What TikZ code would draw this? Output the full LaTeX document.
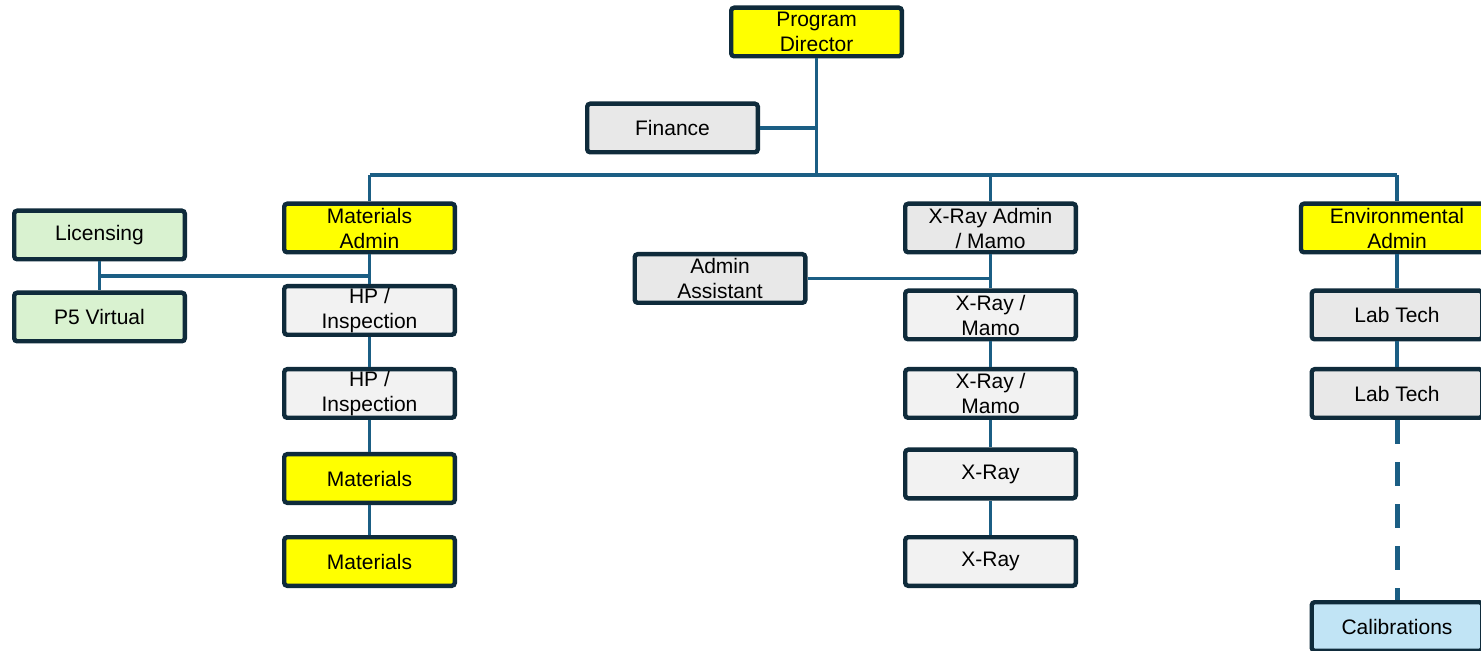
\documentclass[tikz,border=0pt]{standalone}
\usepackage{fontspec}
\setmainfont{Liberation Sans}
\usetikzlibrary{calc}

\definecolor{boxline}{HTML}{0F2B3B}
\definecolor{linkblue}{HTML}{1B5E84}
\definecolor{leadyellow}{HTML}{FFFF00}
\definecolor{staffgray}{HTML}{E8E8E8}
\definecolor{crewgray}{HTML}{F2F2F2}
\definecolor{fieldgreen}{HTML}{D9F2D0}
\definecolor{calblue}{HTML}{C1E4F5}

\tikzset{
  orgbox/.style={draw=boxline, line width=2.2pt, rounded corners=1.5pt,
    minimum width=85.3pt, minimum height=24.3pt, inner sep=0pt,
    align=center, font=\fontsize{10.5}{12.5}\selectfont},
  leadbox/.style={orgbox, fill=leadyellow},
  staffbox/.style={orgbox, fill=staffgray},
  crewbox/.style={orgbox, fill=crewgray},
  fieldbox/.style={orgbox, fill=fieldgreen},
  calbox/.style={orgbox, fill=calblue},
  link/.style={draw=linkblue, line width=1.6pt},
}

\begin{document}
\begin{tikzpicture}[x=0.5pt, y=-0.5pt]
  \useasboundingbox (0,0) rectangle (1481,651);

  % top
  \node[leadbox] (director) at (816.5,32) {Program\\Director};
  \node[staffbox] (finance) at (672.5,128) {Finance};

  % materials branch
  \node[leadbox] (matadmin) at (369.5,228) {Materials\\Admin};
  \node[fieldbox] (licensing) at (99.5,235) {Licensing};
  \node[fieldbox] (pfive) at (99.5,317) {P5 Virtual};
  \node[crewbox] (hpone) at (369.5,310.5) {HP /\\Inspection};
  \node[crewbox] (hptwo) at (369.5,393.5) {HP /\\Inspection};
  \node[leadbox] (matone) at (369.5,478.5) {Materials};
  \node[leadbox] (mattwo) at (369.5,561.5) {Materials};

  % x-ray branch
  \node[staffbox] (xrayadmin) at (990.5,228) {X-Ray Admin\\/ Mamo};
  \node[staffbox] (assistant) at (720,278.5) {Admin\\Assistant};
  \node[crewbox] (xrayone) at (990.5,315) {X-Ray /\\Mamo};
  \node[crewbox] (xraytwo) at (990.5,393.5) {X-Ray /\\Mamo};
  \node[crewbox] (xraythree) at (990.5,474) {X-Ray};
  \node[crewbox] (xrayfour) at (990.5,561.5) {X-Ray};

  % environmental branch
  \node[leadbox, minimum width=96pt] (envadmin) at (1397,228) {Environmental\\Admin};
  \node[staffbox] (labone) at (1397,315) {Lab Tech};
  \node[staffbox] (labtwo) at (1397,393.5) {Lab Tech};
  \node[calbox] (calib) at (1397,626.5) {Calibrations};

  % connectors
  \coordinate (busL) at (369.5,175);
  \coordinate (busR) at (1397,175);
  \draw[link] (director.south) -- (director.south |- busL);
  \draw[link] (finance.east) -- (finance.east -| director.south);
  \draw[link] (busL) -- (busR);
  \draw[link] (busL) -- (matadmin.north);
  \draw[link] (xrayadmin.north |- busL) -- (xrayadmin.north);
  \draw[link] (busR) -- (envadmin.north);

  \draw[link] (matadmin) -- (hpone);
  \draw[link] (hpone) -- (hptwo);
  \draw[link] (hptwo) -- (matone);
  \draw[link] (matone) -- (mattwo);
  \draw[link] (licensing) -- (pfive);
  \coordinate (fieldjoin) at ($(licensing.south)!.5!(pfive.north)$);
  \draw[link] (fieldjoin) -- (fieldjoin -| matadmin.south);

  \draw[link] (xrayadmin) -- (xrayone);
  \draw[link] (assistant.east) -- (assistant.east -| xrayadmin.south);
  \draw[link] (xrayone) -- (xraytwo);
  \draw[link] (xraytwo) -- (xraythree);
  \draw[link] (xraythree) -- (xrayfour);

  \draw[link] (envadmin) -- (labone);
  \draw[link] (labone) -- (labtwo);
  \draw[link, line width=2.5pt, dash pattern=on 12pt off 9pt] (labtwo.south) -- (calib.north);
\end{tikzpicture}
\end{document}
